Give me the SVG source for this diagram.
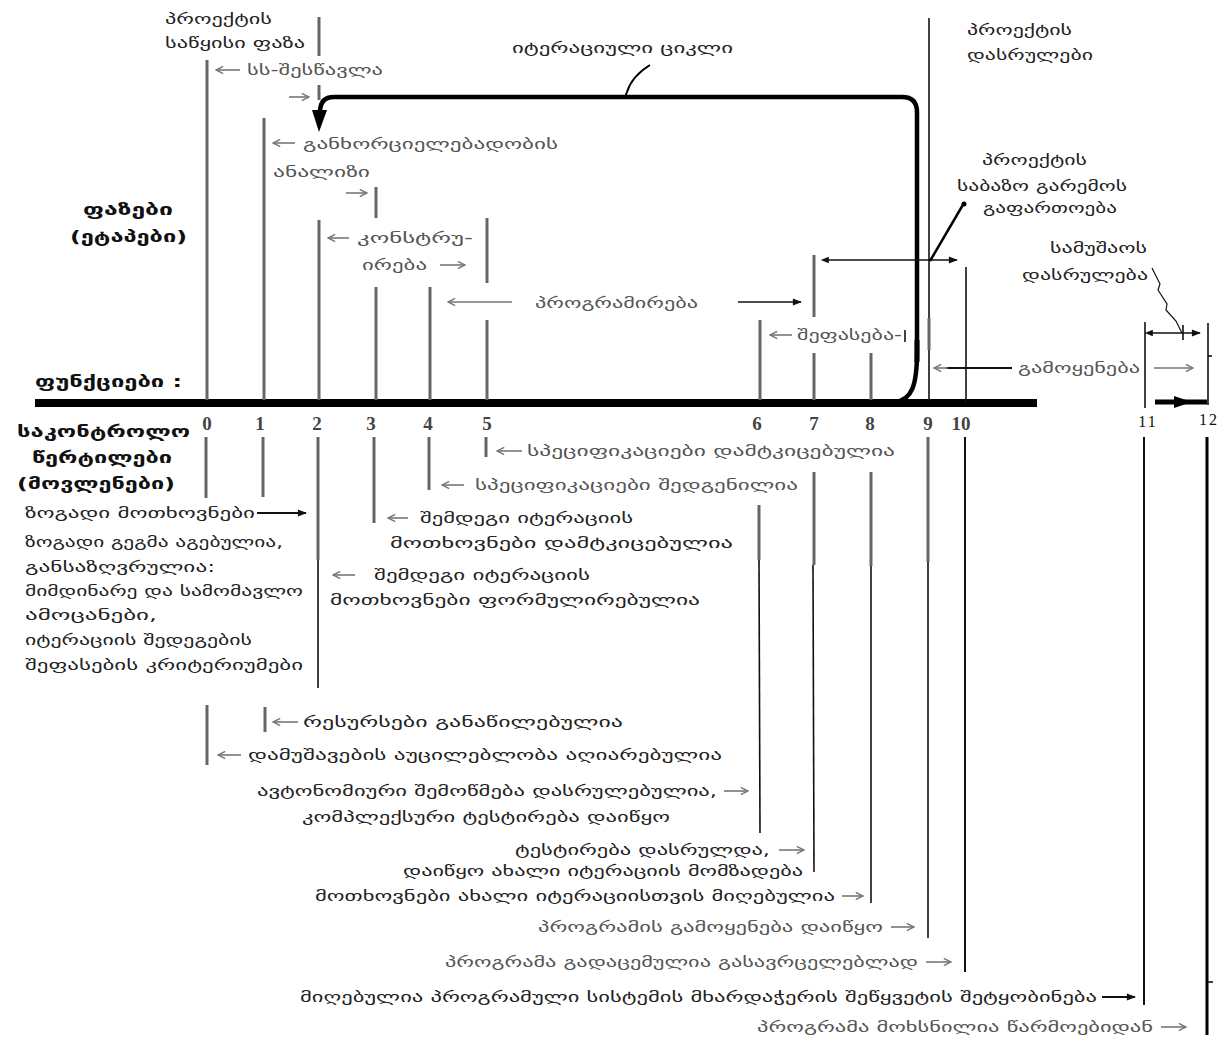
<svg xmlns="http://www.w3.org/2000/svg" width="1226" height="1041" viewBox="0 0 1226 1041">
<defs>
<style>
.t{font-family:"DejaVu Sans",sans-serif;font-size:15px;fill:#222}
.g{fill:#555}
.b{font-family:"DejaVu Sans",sans-serif;font-weight:bold;font-size:16px;fill:#111}
.d{font-family:"Liberation Serif",serif;font-weight:bold;font-size:19px;fill:#444;text-anchor:middle}
.d2{font-family:"Liberation Serif",serif;font-size:16px;fill:#111;text-anchor:middle;letter-spacing:2px}
.ln{stroke:#666;stroke-width:3;fill:none}
.lk{stroke:#111;stroke-width:1.6;fill:none}
.ar{stroke:#777;stroke-width:1.6;fill:none;marker-end:url(#oa)}
.ak{stroke:#111;stroke-width:2.2;fill:none;marker-end:url(#fa)}
</style>
<marker id="oa" viewBox="0 0 10 10" refX="9" refY="5" markerWidth="9" markerHeight="9" markerUnits="userSpaceOnUse" orient="auto"><path d="M1 1 L9 5 L1 9" fill="none" stroke="#777" stroke-width="1.6"/></marker>
<marker id="fa" viewBox="0 0 10 10" refX="9" refY="5" markerWidth="10" markerHeight="9" markerUnits="userSpaceOnUse" orient="auto"><path d="M0 1 L10 5 L0 9 Z" fill="#111"/></marker>
<marker id="fs" viewBox="0 0 10 10" refX="1" refY="5" markerWidth="9" markerHeight="8" markerUnits="userSpaceOnUse" orient="auto-start-reverse"><path d="M0 1 L10 5 L0 9 Z" fill="#111"/></marker>
</defs>
<rect width="1226" height="1041" fill="#fff"/>

<g id="connectors">
<!-- main axis -->
<rect x="35" y="399" width="1002" height="8" fill="#000"/>
<!-- upper phase lines -->
<line class="ln" x1="207" y1="60" x2="207" y2="400"/>
<line class="ln" x1="264" y1="118" x2="264" y2="400"/>
<line class="ln" x1="319" y1="220" x2="319" y2="400"/>
<line class="ln" x1="376" y1="187" x2="376" y2="218"/>
<line class="ln" x1="376" y1="287" x2="376" y2="400"/>
<line class="ln" x1="430" y1="287" x2="430" y2="400"/>
<line class="ln" x1="487" y1="218" x2="487" y2="283"/>
<line class="ln" x1="487" y1="320" x2="487" y2="400"/>
<line class="ln" x1="760" y1="320" x2="760" y2="400"/>
<line class="ln" x1="814" y1="255" x2="814" y2="317"/>
<line class="ln" x1="814" y1="353" x2="814" y2="400"/>
<line class="ln" x1="871" y1="353" x2="871" y2="400"/>
<line class="lk" x1="929" y1="18" x2="929" y2="400"/>
<line class="ln" x1="929" y1="318" x2="929" y2="350"/>
<line class="lk" x1="966" y1="267" x2="966" y2="403"/>
<line class="ln" x1="319" y1="17" x2="319" y2="56"/>
<line class="ln" x1="319" y1="85" x2="319" y2="100"/>
<line class="lk" x1="1145" y1="322" x2="1145" y2="408"/>
<line class="lk" x1="1208" y1="323" x2="1208" y2="405"/>
<line class="lk" x1="1208" y1="356" x2="1212" y2="356"/>
<!-- iteration loop -->
<path d="M895 402 C912 400 917 385 917 352 L917 112 Q917 97 902 97 L334 97 Q320 97 320 112 L320 114" fill="none" stroke="#000" stroke-width="4.5"/>
<path d="M312 110 L327 110 L319 132 Z" fill="#000"/>
<rect x="914.5" y="340" width="5" height="22" fill="#000"/>
<path d="M650 65 Q632 76 627 92 L625 97" fill="none" stroke="#000" stroke-width="2"/>
<!-- upper arrows -->
<line class="ar" x1="240" y1="70" x2="216" y2="70"/>
<line class="ar" x1="289" y1="97" x2="309" y2="97"/>
<line class="ar" x1="295" y1="143" x2="273" y2="143"/>
<line class="ar" x1="346" y1="193" x2="367" y2="193"/>
<line class="ar" x1="349" y1="238" x2="328" y2="238"/>
<line class="ar" x1="440" y1="265" x2="465" y2="265"/>
<line class="ar" x1="512" y1="302" x2="448" y2="302"/>
<line class="ak" x1="738" y1="302" x2="801" y2="302" style="stroke-width:1.6"/>
<line class="ar" x1="792" y1="335" x2="770" y2="335"/>
<line class="lk" x1="905" y1="330" x2="905" y2="342"/>
<!-- environment expansion -->
<line class="lk" x1="828" y1="260" x2="957" y2="260" marker-start="url(#fs)" marker-end="url(#fa)"/>
<path d="M964 203 L930 261" fill="none" stroke="#000" stroke-width="2.5"/>
<circle cx="964" cy="204" r="2.5" fill="#000"/>
<!-- work completion -->
<line class="lk" x1="1152" y1="333" x2="1200" y2="333" marker-start="url(#fs)" marker-end="url(#fa)"/>
<path d="M1152 268 L1160 284 L1158 290 L1167 304 L1166 310 L1176 321 L1182 333" fill="none" stroke="#111" stroke-width="1.2"/>
<line class="lk" x1="1183" y1="325" x2="1183" y2="340"/>
<!-- usage -->
<line x1="1012" y1="368" x2="946" y2="368" stroke="#111" stroke-width="2"/>
<line class="ar" x1="948" y1="368" x2="934" y2="368"/>
<line class="ar" x1="1154" y1="368" x2="1193" y2="368"/>
<line x1="1155" y1="402" x2="1207" y2="402" stroke="#000" stroke-width="5"/>
<path d="M1174 396 L1192 402 L1174 408 Z" fill="#000"/>
<!-- lower checkpoint lines -->
<line class="ln" x1="206" y1="437" x2="206" y2="498"/>
<line class="ln" x1="207" y1="705" x2="207" y2="765"/>
<line class="ln" x1="263" y1="437" x2="263" y2="497"/>
<line class="ln" x1="265" y1="707" x2="265" y2="732"/>
<line class="ln" x1="318" y1="437" x2="318" y2="560"/>
<line class="lk" x1="318" y1="560" x2="318" y2="688"/>
<line class="ln" x1="374" y1="437" x2="374" y2="523"/>
<line class="ln" x1="429" y1="437" x2="429" y2="490"/>
<line class="ln" x1="486" y1="437" x2="486" y2="457"/>
<line class="ln" x1="759" y1="505" x2="759" y2="560"/>
<line class="lk" x1="759" y1="560" x2="760" y2="833"/>
<line class="ln" x1="814" y1="472" x2="814" y2="565"/>
<line class="lk" x1="813" y1="565" x2="814" y2="872"/>
<line class="ln" x1="871" y1="472" x2="871" y2="566"/>
<line class="lk" x1="871" y1="566" x2="871" y2="903"/>
<line class="ln" x1="928" y1="437" x2="928" y2="562"/>
<line class="lk" x1="928" y1="562" x2="928" y2="938"/>
<line class="lk" x1="965" y1="437" x2="965" y2="972" style="stroke-width:2"/>
<line class="lk" x1="1144" y1="437" x2="1144" y2="1005" style="stroke-width:2"/>
<line x1="1207" y1="437" x2="1207" y2="1035" stroke="#000" stroke-width="3"/>
<line class="lk" x1="1208" y1="982" x2="1213" y2="982"/>
<!-- lower arrows -->
<line class="ak" x1="257" y1="513" x2="306" y2="513"/>
<line class="ar" x1="522" y1="451" x2="497" y2="451"/>
<line class="ar" x1="464" y1="485" x2="442" y2="485"/>
<line class="ar" x1="408" y1="518" x2="388" y2="518"/>
<line class="ar" x1="355" y1="575" x2="333" y2="575"/>
<line class="ar" x1="298" y1="722" x2="273" y2="722"/>
<line class="ar" x1="241" y1="755" x2="218" y2="755"/>
<line class="ar" x1="724" y1="791" x2="748" y2="791"/>
<line class="ar" x1="779" y1="850" x2="804" y2="850"/>
<line class="ar" x1="842" y1="896" x2="863" y2="896"/>
<line class="ar" x1="891" y1="927" x2="914" y2="927"/>
<line class="ar" x1="926" y1="962" x2="951" y2="962"/>
<line class="ak" x1="1102" y1="997" x2="1135" y2="997"/>
<line class="ar" x1="1161" y1="1027" x2="1186" y2="1027"/>
</g>

<g id="axis-labels">
<g id="lbl-phases"><text class="b" x="83" y="215" textLength="90" lengthAdjust="spacingAndGlyphs">ფაზები</text><text class="b" x="70" y="242" textLength="117" lengthAdjust="spacingAndGlyphs">(ეტაპები)</text></g>
<g id="lbl-functions"><text class="b" x="35" y="387" textLength="147" lengthAdjust="spacingAndGlyphs">ფუნქციები :</text></g>
<g id="lbl-checkpoints"><text class="b" x="17" y="437" textLength="173" lengthAdjust="spacingAndGlyphs">საკონტროლო</text><text class="b" x="32" y="463" textLength="140" lengthAdjust="spacingAndGlyphs">წერტილები</text><text class="b" x="17" y="489" textLength="158" lengthAdjust="spacingAndGlyphs">(მოვლენები)</text></g>
</g>

<g id="checkpoint-numbers">
<text class="d" x="207" y="430">0</text>
<text class="d" x="260" y="430">1</text>
<text class="d" x="317" y="430">2</text>
<text class="d" x="371" y="430">3</text>
<text class="d" x="428" y="430">4</text>
<text class="d" x="487" y="430">5</text>
<text class="d" x="757" y="430">6</text>
<text class="d" x="814" y="430">7</text>
<text class="d" x="870" y="430">8</text>
<text class="d" x="928" y="430">9</text>
<text class="d" x="961" y="430">10</text>
<text class="d2" x="1148" y="427">11</text>
<text class="d2" x="1209" y="425">12</text>
</g>

<g id="phase-labels">
<g id="n-start"><text class="t" x="165" y="24" textLength="107" lengthAdjust="spacingAndGlyphs">პროექტის</text><text class="t" x="165" y="48" textLength="140" lengthAdjust="spacingAndGlyphs">საწყისი ფაზა</text></g>
<g id="n-study"><text class="t g" x="247" y="75" textLength="136" lengthAdjust="spacingAndGlyphs">სს-შესწავლა</text></g>
<g id="n-feasibility"><text class="t g" x="303" y="149" textLength="255" lengthAdjust="spacingAndGlyphs">განხორციელებადობის</text><text class="t g" x="273" y="177" textLength="97" lengthAdjust="spacingAndGlyphs">ანალიზი</text></g>
<g id="n-construct"><text class="t g" x="357" y="243" textLength="116" lengthAdjust="spacingAndGlyphs">კონსტრუ-</text><text class="t g" x="362" y="270" textLength="65" lengthAdjust="spacingAndGlyphs">ირება</text></g>
<g id="n-programming"><text class="t g" x="535" y="308" textLength="163" lengthAdjust="spacingAndGlyphs">პროგრამირება</text></g>
<g id="n-evaluation"><text class="t g" x="797" y="340" textLength="105" lengthAdjust="spacingAndGlyphs">შეფასება-</text></g>
<g id="n-cycle"><text class="t" x="512" y="53" textLength="221" lengthAdjust="spacingAndGlyphs">იტერაციული ციკლი</text></g>
<g id="n-end"><text class="t" x="967" y="35" textLength="105" lengthAdjust="spacingAndGlyphs">პროექტის</text><text class="t" x="967" y="60" textLength="126" lengthAdjust="spacingAndGlyphs">დასრულები</text></g>
<g id="n-env"><text class="t" x="982" y="165" textLength="105" lengthAdjust="spacingAndGlyphs">პროექტის</text><text class="t" x="957" y="191" textLength="170" lengthAdjust="spacingAndGlyphs">საბაზო გარემოს</text><text class="t" x="983" y="213" textLength="134" lengthAdjust="spacingAndGlyphs">გაფართოება</text></g>
<g id="n-workend"><text class="t" x="1050" y="253" textLength="97" lengthAdjust="spacingAndGlyphs">სამუშაოს</text><text class="t" x="1022" y="280" textLength="126" lengthAdjust="spacingAndGlyphs">დასრულება</text></g>
<g id="n-usage"><text class="t g" x="1018" y="373" textLength="122" lengthAdjust="spacingAndGlyphs">გამოყენება</text></g>
</g>

<g id="event-labels">
<g id="e5"><text class="t g" x="527" y="456" textLength="368" lengthAdjust="spacingAndGlyphs">სპეციფიკაციები დამტკიცებულია</text></g>
<g id="e4"><text class="t g" x="475" y="490" textLength="323" lengthAdjust="spacingAndGlyphs">სპეციფიკაციები შედგენილია</text></g>
<g id="e1">
<text class="t" x="25" y="518" textLength="230" lengthAdjust="spacingAndGlyphs">ზოგადი მოთხოვნები</text>
<text class="t" x="25" y="547" textLength="258" lengthAdjust="spacingAndGlyphs">ზოგადი გეგმა აგებულია,</text>
<text class="t" x="25" y="572" textLength="190" lengthAdjust="spacingAndGlyphs">განსაზღვრულია:</text>
<text class="t" x="25" y="596" textLength="278" lengthAdjust="spacingAndGlyphs">მიმდინარე და სამომავლო</text>
<text class="t" x="25" y="620" textLength="132" lengthAdjust="spacingAndGlyphs">ამოცანები,</text>
<text class="t" x="25" y="645" textLength="227" lengthAdjust="spacingAndGlyphs">იტერაციის შედეგების</text>
<text class="t" x="25" y="670" textLength="278" lengthAdjust="spacingAndGlyphs">შეფასების კრიტერიუმები</text>
</g>
<g id="e3"><text class="t" x="420" y="523" textLength="213" lengthAdjust="spacingAndGlyphs">შემდეგი იტერაციის</text><text class="t" x="390" y="548" textLength="343" lengthAdjust="spacingAndGlyphs">მოთხოვნები  დამტკიცებულია</text></g>
<g id="e2"><text class="t" x="374" y="580" textLength="216" lengthAdjust="spacingAndGlyphs">შემდეგი იტერაციის</text><text class="t" x="330" y="605" textLength="370" lengthAdjust="spacingAndGlyphs">მოთხოვნები ფორმულირებულია</text></g>
<g id="e1b"><text class="t" x="303" y="727" textLength="320" lengthAdjust="spacingAndGlyphs">რესურსები განაწილებულია</text></g>
<g id="e0"><text class="t" x="248" y="760" textLength="474" lengthAdjust="spacingAndGlyphs">დამუშავების აუცილებლობა აღიარებულია</text></g>
<g id="e6"><text class="t" x="257" y="796" textLength="460" lengthAdjust="spacingAndGlyphs">ავტონომიური შემოწმება დასრულებულია,</text><text class="t" x="302" y="822" textLength="368" lengthAdjust="spacingAndGlyphs">კომპლექსური ტესტირება დაიწყო</text></g>
<g id="e7"><text class="t" x="515" y="855" textLength="255" lengthAdjust="spacingAndGlyphs">ტესტირება დასრულდა,</text><text class="t" x="403" y="876" textLength="400" lengthAdjust="spacingAndGlyphs">დაიწყო ახალი იტერაციის მომზადება</text></g>
<g id="e8"><text class="t" x="315" y="901" textLength="520" lengthAdjust="spacingAndGlyphs">მოთხოვნები ახალი იტერაციისთვის მიღებულია</text></g>
<g id="e9"><text class="t g" x="538" y="932" textLength="345" lengthAdjust="spacingAndGlyphs">პროგრამის გამოყენება დაიწყო</text></g>
<g id="e10"><text class="t g" x="445" y="967" textLength="473" lengthAdjust="spacingAndGlyphs">პროგრამა გადაცემულია გასავრცელებლად</text></g>
<g id="e11"><text class="t" x="300" y="1002" textLength="797" lengthAdjust="spacingAndGlyphs">მიღებულია პროგრამული სისტემის მხარდაჭერის შეწყვეტის შეტყობინება</text></g>
<g id="e12"><text class="t g" x="757" y="1032" textLength="396" lengthAdjust="spacingAndGlyphs">პროგრამა მოხსნილია წარმოებიდან</text></g>
</g>
</svg>
